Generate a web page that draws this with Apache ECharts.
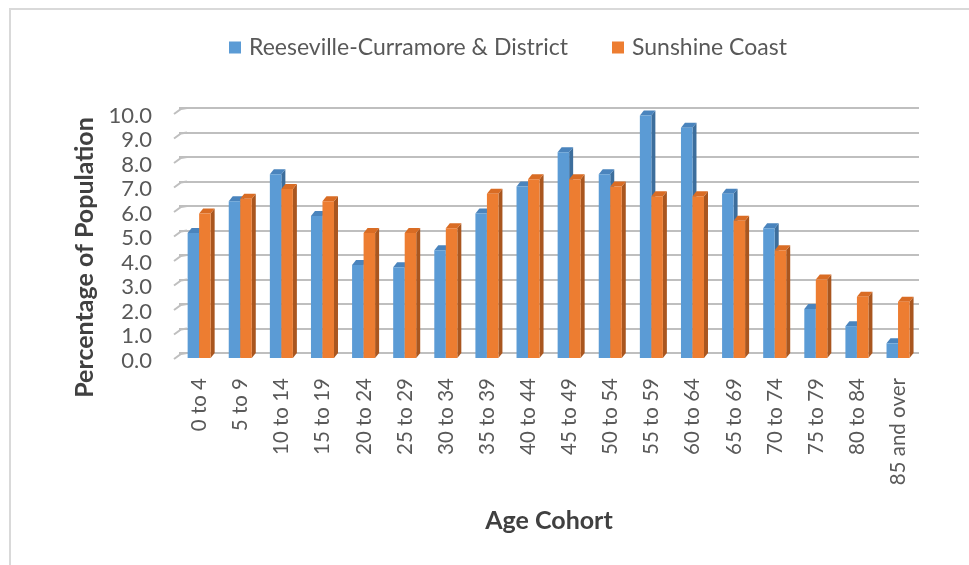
<!DOCTYPE html>
<html>
<head>
<meta charset="utf-8">
<title>Age Cohort</title>
<script src="https://cdn.jsdelivr.net/npm/echarts@6/dist/echarts.min.js"></script>
<style>
  html, body { margin: 0; padding: 0; background: #fff; }
  #frame { position: absolute; left: 9px; top: 8px; width: 1000px; height: 600px;
           border-left: 2px solid #d9d9d9; border-top: 2px solid #d9d9d9; }
  #chart { position: absolute; left: 0; top: 0; width: 969px; height: 565px; }
</style>
</head>
<body>
<div id="frame"></div>
<div id="chart"></div>
<script>
  // age cohorts along the x axis
  var cohorts = ['0 to 4', '5 to 9', '10 to 14', '15 to 19', '20 to 24', '25 to 29',
    '30 to 34', '35 to 39', '40 to 44', '45 to 49', '50 to 54', '55 to 59',
    '60 to 64', '65 to 69', '70 to 74', '75 to 79', '80 to 84', '85 and over'];

  // % of population
  var reeseville = [5.1, 6.4, 7.5, 5.8, 3.8, 3.7, 4.4, 5.9, 7.0, 8.4, 7.5, 9.9,
    9.4, 6.7, 5.3, 2.0, 1.3, 0.6];
  var sunshine = [5.9, 6.5, 6.9, 6.4, 5.1, 5.1, 5.3, 6.7, 7.3, 7.3, 7.0, 6.6,
    6.6, 5.6, 4.4, 3.2, 2.5, 2.3];

  var yTicks = [0, 1, 2, 3, 4, 5, 6, 7, 8, 9, 10];

  var FONT = 'Lato';
  var DEPTH_X = 4, DEPTH_Y = 5;

  // fake 3d column: front face, right side and top
  function column3d(slot, front, side, top) {
    return function (params, api) {
      var idx = api.value(0);
      var base = api.coord([idx, 0]);
      var tip = api.coord([idx, api.value(1)]);
      var w = api.size([1, 0])[0];
      var bw = w * 0.28;
      var x0 = base[0] - w * 0.29 + slot * bw;
      var x1 = x0 + bw;
      var yb = base[1] + DEPTH_Y;
      var yt = tip[1] + DEPTH_Y;
      return {
        type: 'group',
        children: [{
          type: 'polygon',
          shape: { points: [[x1, yt], [x1 + DEPTH_X, yt - DEPTH_Y], [x1 + DEPTH_X, yb - DEPTH_Y], [x1, yb]] },
          style: { fill: side }
        }, {
          type: 'polygon',
          shape: { points: [[x0, yt], [x0 + DEPTH_X, yt - DEPTH_Y], [x1 + DEPTH_X, yt - DEPTH_Y], [x1, yt]] },
          style: { fill: top }
        }, {
          type: 'rect',
          shape: { x: x0, y: yt, width: bw, height: yb - yt },
          style: { fill: front }
        }]
      };
    };
  }

  // slanted stub at the left end of each gridline (3d floor edge)
  function gridStub(params, api) {
    var p = api.coord([0, api.value(0)]);
    var x = p[0] - api.size([1, 0])[0] / 2;
    return {
      type: 'polyline',
      shape: { points: [[x - 5, p[1] + 6], [x + 2, p[1] + 1], [x + 8, p[1]]] },
      style: { stroke: '#bfbfbf', lineWidth: 2, fill: null }
    };
  }

  function toData(arr) {
    return arr.map(function (v, i) { return [i, v]; });
  }

  var chart = echarts.init(document.getElementById('chart'), null, { renderer: 'canvas' });
  chart.setOption({
    animation: false,
    textStyle: { fontFamily: FONT },
    legend: {
      top: 31,
      left: 224,
      itemWidth: 12,
      itemHeight: 12,
      itemGap: 44,
      icon: 'rect',
      textStyle: { fontSize: 23, color: '#595959', fontFamily: FONT, padding: [0, 0, 0, 3] },
      data: ['Reeseville-Curramore & District', 'Sunshine Coast']
    },
    grid: {
      left: 179,
      right: 50,
      top: 108,
      bottom: 212
    },
    xAxis: {
      type: 'category',
      data: cohorts,
      name: 'Age Cohort',
      nameLocation: 'middle',
      nameGap: 155,
      nameTextStyle: { fontSize: 25, fontWeight: 'bold', color: '#404040', fontFamily: FONT },
      axisLine: { show: false },
      axisTick: { show: false },
      axisLabel: { rotate: 90, interval: 0, margin: 25, fontSize: 20.5, color: '#595959' }
    },
    yAxis: {
      type: 'value',
      min: 0,
      max: 10,
      interval: 1,
      name: 'Percentage of Population',
      nameLocation: 'middle',
      nameGap: 80,
      nameTextStyle: { fontSize: 25, fontWeight: 'bold', color: '#404040', fontFamily: FONT, padding: [0, 54, 0, 0] },
      axisLine: { show: false },
      axisTick: { show: false },
      splitLine: { lineStyle: { color: '#bfbfbf', width: 2 } },
      axisLabel: {
        margin: 27,
        fontSize: 22,
        color: '#595959',
        verticalAlign: 'top',
        lineHeight: 15,
        formatter: function (v) { return yTicks.indexOf(v) >= 0 ? v.toFixed(1) : ''; }
      }
    },
    series: [{
      type: 'custom',
      silent: true,
      renderItem: gridStub,
      encode: { y: 0 },
      data: yTicks.map(function (v) { return [v]; })
    }, {
      name: 'Reeseville-Curramore & District',
      type: 'custom',
      itemStyle: { color: '#5b9bd5' },
      renderItem: column3d(0, '#5b9bd5', '#3d6e9c', '#4a84bd'),
      encode: { x: 0, y: 1 },
      data: toData(reeseville)
    }, {
      name: 'Sunshine Coast',
      type: 'custom',
      itemStyle: { color: '#ed7d31' },
      renderItem: column3d(1, '#ed7d31', '#a9561f', '#d96c24'),
      encode: { x: 0, y: 1 },
      data: toData(sunshine)
    }]
  });
</script>
</body>
</html>
